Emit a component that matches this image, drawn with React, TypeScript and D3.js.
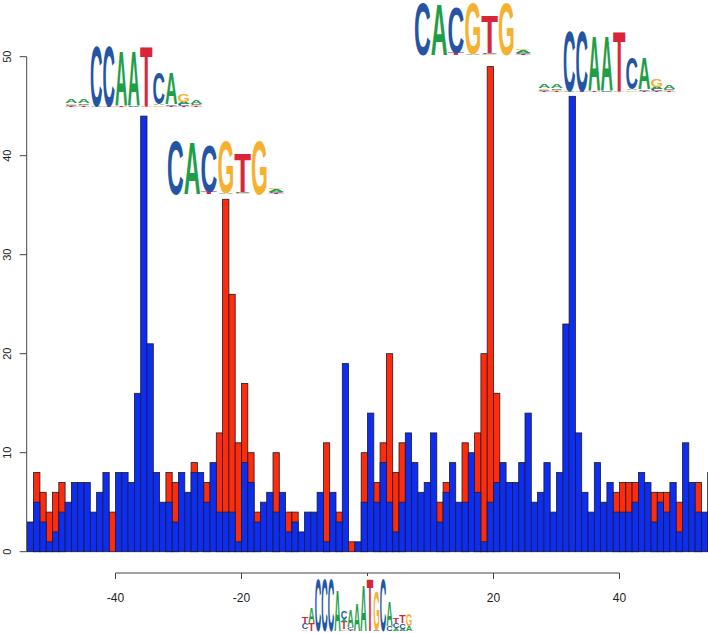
import React from "react";
import * as d3 from "d3";

const W = 708;
const H = 633;

// histogram bins are 1 unit wide, first visible bin starts at -54
const FIRST_BIN = -54;

// counts per bin (blue series drawn in front)
const blueCounts = [
  3, 5, 3, 1, 2, 4, 5, 7, 7, 7,
  4, 6, 8, 0, 8, 8, 7, 16, 44, 21,
  8, 5, 5, 3, 8, 6, 8, 8, 5, 9,
  4, 4, 4, 1, 9, 7, 3, 5, 6, 4,
  6, 2, 3, 2, 4, 4, 6, 1, 6, 3,
  19, 0, 1, 5, 14, 5, 9, 5, 2, 5,
  12, 9, 6, 7, 12, 3, 6, 9, 5, 5,
  10, 6, 1, 5, 7, 9, 7, 7, 9, 14,
  5, 6, 9, 4, 8, 23, 46, 12, 6, 4,
  9, 5, 7, 4, 4, 4, 5, 8, 7, 3,
  5, 4, 7, 2, 11, 7, 4, 4, 8,
];

// red series, only where it shows above the blue one (null = hidden)
const N = null;
const redCounts = [
  N, 8, 6, 4, 6, 7, N, N, N, N,
  N, N, N, 4, N, N, N, N, N, N,
  N, N, 8, 7, N, N, 9, N, 7, N,
  12, 35.6, 26, 11, 17, 10, 4, N, N, 10,
  N, 4, 4, N, N, N, N, 11, N, 4,
  N, 1, N, 10, N, 7, 11, 20, 8, 11,
  N, N, N, N, N, 5, 7, N, N, 11,
  N, 12, 20, 49, 16, N, N, N, N, N,
  N, N, N, N, N, N, N, N, N, N,
  N, N, N, 6, 7, 7, 7, N, N, 6,
  6, 6, N, 5, N, N, 7, N, N,
];

const xTicks = [-40, -20, 0, 20, 40];
const xTickLabels = ["-40", "-20", "", "20", "40"];
const yTicks = [0, 10, 20, 30, 40, 50];

// sequence logos: columns of [base, bits], stacked bottom to top
type Column = [string, number][];

const ccaatMotif: Column[] = [
  [["T", 0.03], ["C", 0.04], ["G", 0.05], ["A", 0.13]],
  [["T", 0.03], ["G", 0.04], ["C", 0.05], ["A", 0.13]],
  [["A", 0.03], ["C", 1.9]],
  [["T", 0.03], ["C", 1.9]],
  [["T", 0.04], ["A", 1.75]],
  [["C", 0.04], ["A", 1.75]],
  [["G", 0.04], ["T", 1.9]],
  [["G", 0.05], ["A", 0.04], ["C", 1.0]],
  [["T", 0.04], ["C", 0.05], ["A", 1.0]],
  [["T", 0.04], ["C", 0.06], ["A", 0.06], ["G", 0.24]],
  [["T", 0.03], ["G", 0.03], ["C", 0.04], ["A", 0.1]],
];

const eboxMotif: Column[] = [
  [["C", 1.93]],
  [["A", 1.89]],
  [["T", 0.08], ["C", 1.7]],
  [["A", 0.05], ["G", 1.88]],
  [["G", 0.04], ["C", 0.04], ["T", 1.4]],
  [["G", 1.93]],
  [["T", 0.03], ["C", 0.05], ["A", 0.1], ["G", 0.04]],
];

const bottomMotif: Column[] = [
  [["G", 0.06], ["C", 0.22], ["T", 0.25]],
  [["T", 0.3], ["A", 0.6]],
  [["C", 1.95]],
  [["C", 1.95]],
  [["C", 1.95]],
  [["A", 1.5]],
  [["G", 0.06], ["T", 0.28], ["A", 0.1], ["C", 0.3]],
  [["T", 0.05], ["C", 0.1], ["A", 0.65]],
  [["A", 1.05]],
  [["A", 1.7]],
  [["T", 1.98]],
  [["C", 0.05], ["G", 1.45]],
  [["C", 1.95]],
  [["C", 0.2], ["A", 0.95]],
  [["A", 0.1], ["C", 0.2], ["T", 0.2]],
  [["A", 0.08], ["C", 0.2], ["T", 0.3]],
  [["A", 0.2], ["G", 0.45]],
];

const baseColors: Record<string, string> = {
  A: "#1f9e48",
  C: "#2455a5",
  G: "#f5b12f",
  T: "#d9253a",
};

const logos = [
  { motif: ccaatMotif, x0: 65, base: 107, colW: 12.5, unit: 32 },
  { motif: ccaatMotif, x0: 538, base: 92, colW: 12.5, unit: 32 },
  { motif: eboxMotif, x0: 167, base: 194, colW: 16.8, unit: 28 },
  { motif: eboxMotif, x0: 414, base: 55, colW: 16.8, unit: 27.5 },
  { motif: bottomMotif, x0: 301.7, base: 631, colW: 6.5, unit: 27, bg: true },
];

const CAP = 71.6; // cap height of the logo font at size 100

const Logo: React.FC<{
  motif: Column[];
  x0: number;
  base: number;
  colW: number;
  unit: number;
  bg?: boolean;
}> = ({ motif, x0, base, colW, unit, bg }) => {
  const cx = d3.scaleLinear().domain([0, motif.length]).range([x0, x0 + colW * motif.length]);
  const bits = d3.scaleLinear().domain([0, 1]).range([0, unit]);
  const letters: React.ReactNode[] = [];
  motif.forEach((col, j) => {
    let acc = 0;
    col.forEach(([b, v], k) => {
      const h = bits(v);
      const yb = base - acc;
      acc += h;
      letters.push(
        <text
          key={`${j}-${k}`}
          transform={`translate(${cx(j)},${yb}) scale(1,${h / CAP})`}
          fontSize={100}
          fontFamily="'Liberation Sans', Arial, sans-serif"
          fontWeight="bold"
          textLength={colW}
          lengthAdjust="spacingAndGlyphs"
          fill={baseColors[b]}
        >
          {b}
        </text>
      );
    });
  });
  return (
    <g>
      {bg && (
        <rect x={x0 - 6} y={576} width={colW * motif.length + 12} height={H - 576} fill="#fff" />
      )}
      {letters}
    </g>
  );
};

export default function App() {
  const x = d3.scaleLinear().domain([-54, 54]).range([27.3, 707.7]);
  const y = d3.scaleLinear().domain([0, 50]).range([551.7, 56.7]);
  const axisY = 573;

  const bar = (i: number, v: number, fill: string, key: string) => {
    const b = FIRST_BIN + i;
    return (
      <rect
        key={key}
        x={x(b)}
        y={y(v)}
        width={x(b + 1) - x(b)}
        height={y(0) - y(v)}
        fill={fill}
        stroke="#1c1c2a"
        strokeWidth={0.8}
      />
    );
  };

  return (
    <svg
      width={W}
      height={H}
      style={{ position: "absolute", left: 0, top: 0, background: "#fff" }}
      fontFamily="'Liberation Sans', Arial, sans-serif"
    >
      <g>
        {redCounts.map((v, i) => (v == null ? null : bar(i, v, "#ff2b0a", `r${i}`)))}
        {blueCounts.map((v, i) => bar(i, v, "#0d2ef2", `b${i}`))}
      </g>

      {/* y axis */}
      <g stroke="#444" strokeWidth={1}>
        <line x1={26.7} x2={26.7} y1={y(0)} y2={y(50)} />
        {yTicks.map((t) => (
          <line key={t} x1={19.7} x2={26.7} y1={y(t)} y2={y(t)} />
        ))}
      </g>
      {yTicks.map((t) => (
        <text
          key={t}
          transform={`translate(10.5,${y(t)}) rotate(-90)`}
          textAnchor="middle"
          fontSize={11}
          fill="#222"
        >
          {t}
        </text>
      ))}

      {/* x axis */}
      <g stroke="#444" strokeWidth={1}>
        <line x1={x(-40)} x2={x(40)} y1={axisY} y2={axisY} />
        {xTicks.map((t) => (
          <line key={t} x1={x(t)} x2={x(t)} y1={axisY} y2={axisY + 6} />
        ))}
      </g>
      {xTicks.map((t, i) => (
        <text key={t} x={x(t)} y={602} textAnchor="middle" fontSize={12} fill="#222">
          {xTickLabels[i]}
        </text>
      ))}

      {logos.map((l, i) => (
        <Logo key={i} {...l} />
      ))}
    </svg>
  );
}
